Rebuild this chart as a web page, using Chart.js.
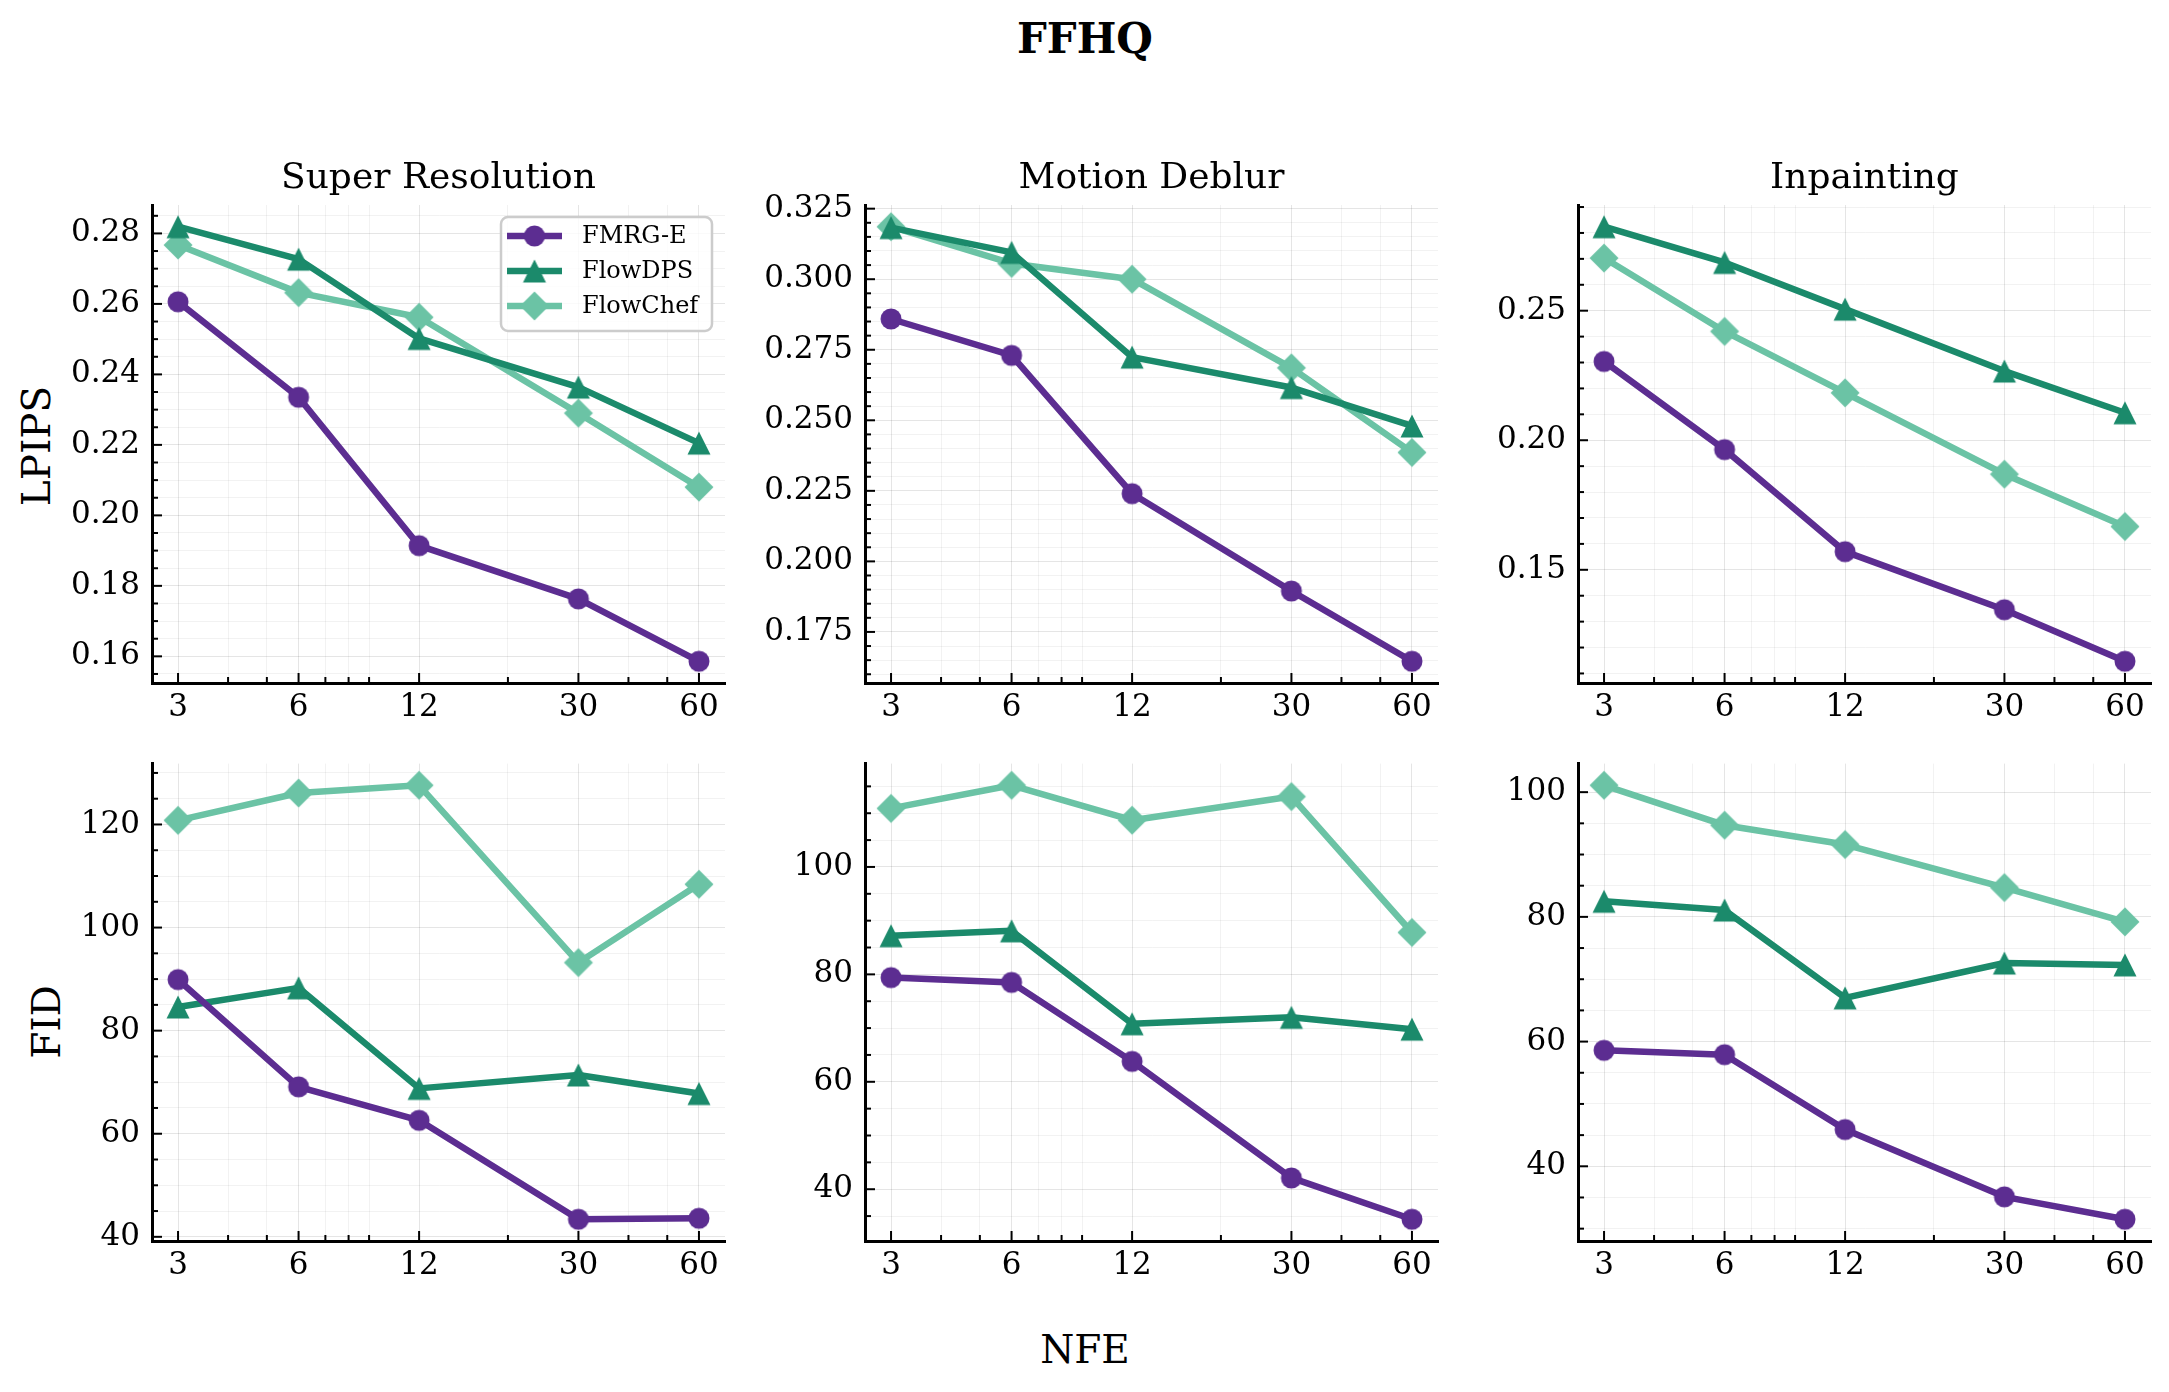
<!DOCTYPE html>
<html>
<head>
<meta charset="utf-8">
<script src="https://cdn.jsdelivr.net/npm/chart.js@4.4.1/dist/chart.umd.min.js"></script>
<style>
	body { margin: 0; background: #fff; }
	#fig { position: relative; width: 2169px; height: 1392px; background: #fff; font-family: 'DejaVu Serif', serif; color: #000; overflow: hidden; }
	#fig canvas { position: absolute; }
	.lbl { position: absolute; line-height: 1; white-space: nowrap; transform: translate(-50%, -50%); }
	.rot { transform: translate(-50%, -50%) rotate(-90deg); }
</style>
</head>
<body>
<div id="fig">
	<div class="lbl" style="left:1085px; top:39px; font-size:42px; font-weight:bold;">FFHQ</div>
	<div class="lbl" style="left:1085px; top:1349px; font-size:39px;">NFE</div>
	<div class="lbl rot" style="left:36px; top:446px; font-size:39px;">LPIPS</div>
	<div class="lbl rot" style="left:46px; top:1022px; font-size:39px;">FID</div>
</div>
<script>
// x values (log axis)
const nfe = [3, 6, 12, 30, 60];
const nfeMinor = [4, 5, 7, 8, 9, 20, 40, 50];
const tasks = ['Super Resolution', 'Motion Deblur', 'Inpainting'];
const methods = ['FMRG-E', 'FlowDPS', 'FlowChef'];

// LPIPS, one row per task (SR, deblur, inpainting)
const fmrgLpips = [
	[0.2606, 0.2335, 0.1914, 0.1763, 0.1586],
	[0.2859, 0.2730, 0.2240, 0.1895, 0.1646],
	[0.2304, 0.1964, 0.1570, 0.1346, 0.1147]
];
const flowdpsLpips = [
	[0.2819, 0.2727, 0.2502, 0.2364, 0.2205],
	[0.3183, 0.3095, 0.2724, 0.2616, 0.2480],
	[0.2824, 0.2686, 0.2506, 0.2267, 0.2106]
];
const flowchefLpips = [
	[0.2767, 0.2632, 0.2562, 0.2290, 0.2080],
	[0.3186, 0.3056, 0.3000, 0.2686, 0.2386],
	[0.2703, 0.2420, 0.2183, 0.1869, 0.1667]
];

// FID, one row per task
const fmrgFid = [
	[89.9, 69.1, 62.6, 43.4, 43.6],
	[79.4, 78.5, 63.8, 42.1, 34.4],
	[58.6, 57.9, 45.9, 35.1, 31.5]
];
const flowdpsFid = [
	[84.6, 88.3, 68.8, 71.4, 67.8],
	[87.2, 88.1, 70.8, 72.0, 69.8],
	[82.5, 81.1, 67.0, 72.6, 72.3]
];
const flowchefFid = [
	[120.8, 126.1, 127.6, 93.2, 108.4],
	[110.9, 115.2, 108.7, 113.1, 87.8],
	[101.1, 94.7, 91.6, 84.7, 79.2]
];

// y tick spacing per panel
const lpipsStep = [0.02, 0.025, 0.05];
const lpipsMinorDiv = [4, 5, 5];
const lpipsDecimals = [2, 3, 2];
const fidStep = [20, 20, 20];
const fidMinorDiv = [4, 4, 4];

const colors = ['#5c2d91', '#1b8a6b', '#6bc3a5'];
const shapes = ['circle', 'triangle', 'diamond'];
const serif = "'DejaVu Serif', serif";

// panel geometry
const colLeft = [152, 865, 1578];
const rowTop = [205, 763];
const plotW = 573, plotH = 478;
const axisW = 120, axisH = 60, padR = 24;

function markerImage(shape, color) {
	const size = shape === 'diamond' ? 32 : 26;
	const c = document.createElement('canvas');
	c.width = size;
	c.height = size;
	const g = c.getContext('2d');
	const m = size / 2;
	g.fillStyle = color;
	g.beginPath();
	if (shape === 'circle') {
		g.arc(m, m, 10.5, 0, Math.PI * 2);
	} else if (shape === 'triangle') {
		g.moveTo(m, m - 11.5);
		g.lineTo(m + 11.5, m + 11.5);
		g.lineTo(m - 11.5, m + 11.5);
		g.closePath();
	} else {
		g.moveTo(m, m - 14.5);
		g.lineTo(m + 14.5, m);
		g.lineTo(m, m + 14.5);
		g.lineTo(m - 14.5, m);
		g.closePath();
	}
	g.fill();
	return c;
}
const markers = shapes.map((s, i) => markerImage(s, colors[i]));

function paddedRange(rows) {
	const all = rows.flat();
	const lo = Math.min(...all);
	const hi = Math.max(...all);
	const m = (hi - lo) * 0.05;
	return [lo - m, hi + m];
}

function linearTicks(min, max, step, div) {
	const out = [];
	const minor = step / div;
	const start = Math.ceil(min / minor - 1e-9);
	const end = Math.floor(max / minor + 1e-9);
	for (let k = start; k <= end; k++) {
		out.push({ value: +(k * minor).toFixed(6), major: k % div === 0 });
	}
	return out;
}

function logTicks() {
	return nfe.map(v => ({ value: v, major: true }))
		.concat(nfeMinor.map(v => ({ value: v, major: false })))
		.sort((a, b) => a.value - b.value);
}

const xSpan = Math.pow(nfe[nfe.length - 1] / nfe[0], 0.05);
const xMin = nfe[0] / xSpan;
const xMax = nfe[nfe.length - 1] * xSpan;

const gridColor = (ctx) => (ctx.tick && ctx.tick.major) ? 'rgba(0,0,0,0.10)' : 'rgba(0,0,0,0.05)';

// matplotlib style ticks pointing into the axes
const innerTicks = {
	id: 'innerTicks',
	afterDraw(chart) {
		const ctx = chart.ctx;
		const a = chart.chartArea;
		ctx.save();
		ctx.strokeStyle = '#000';
		ctx.lineWidth = 2;
		chart.scales.x.ticks.forEach(t => {
			const px = chart.scales.x.getPixelForValue(t.value);
			ctx.beginPath();
			ctx.moveTo(px, a.bottom);
			ctx.lineTo(px, a.bottom - (t.major ? 10 : 6));
			ctx.stroke();
		});
		chart.scales.y.ticks.forEach(t => {
			const py = chart.scales.y.getPixelForValue(t.value);
			ctx.beginPath();
			ctx.moveTo(a.left, py);
			ctx.lineTo(a.left + (t.major ? 10 : 6), py);
			ctx.stroke();
		});
		ctx.restore();
	}
};

const cornerLegend = {
	id: 'cornerLegend',
	afterDatasetsDraw(chart, args, opts) {
		if (!opts.show) return;
		const ctx = chart.ctx;
		const a = chart.chartArea;
		const boxW = 211, boxH = 114;
		const x0 = a.right - 13 - boxW;
		const y0 = a.top + 12;
		ctx.save();
		ctx.beginPath();
		ctx.roundRect(x0, y0, boxW, boxH, 7);
		ctx.fillStyle = 'rgba(255,255,255,0.8)';
		ctx.fill();
		ctx.strokeStyle = '#cccccc';
		ctx.lineWidth = 2.5;
		ctx.stroke();
		chart.data.datasets.forEach((ds, i) => {
			const cy = y0 + 19 + i * 35;
			ctx.strokeStyle = ds.borderColor;
			ctx.lineWidth = ds.borderWidth;
			ctx.beginPath();
			ctx.moveTo(x0 + 6, cy);
			ctx.lineTo(x0 + 61, cy);
			ctx.stroke();
			const img = ds.pointStyle;
			ctx.drawImage(img, x0 + 33.5 - img.width / 2, cy - img.height / 2);
			ctx.fillStyle = '#000';
			ctx.font = '24px ' + serif;
			ctx.textBaseline = 'middle';
			ctx.textAlign = 'left';
			ctx.fillText(ds.label, x0 + 81, cy + 1);
		});
		ctx.restore();
	}
};

const fig = document.getElementById('fig');

for (let r = 0; r < 2; r++) {
	for (let c = 0; c < 3; c++) {
		const series = r === 0
			? [fmrgLpips[c], flowdpsLpips[c], flowchefLpips[c]]
			: [fmrgFid[c], flowdpsFid[c], flowchefFid[c]];
		const [yMin, yMax] = paddedRange(series);
		const step = r === 0 ? lpipsStep[c] : fidStep[c];
		const div = r === 0 ? lpipsMinorDiv[c] : fidMinorDiv[c];
		const decimals = r === 0 ? lpipsDecimals[c] : 0;

		const topPad = r === 0 ? 50 : 30;
		const canvas = document.createElement('canvas');
		canvas.width = axisW + plotW + padR;
		canvas.height = topPad + plotH + axisH;
		canvas.style.left = (colLeft[c] - axisW) + 'px';
		canvas.style.top = (rowTop[r] - topPad) + 'px';
		fig.appendChild(canvas);

		new Chart(canvas, {
			type: 'line',
			data: {
				datasets: series.map((vals, i) => ({
					label: methods[i],
					data: nfe.map((x, j) => ({ x: x, y: vals[j] })),
					borderColor: colors[i],
					backgroundColor: colors[i],
					borderWidth: 6.5,
					borderJoinStyle: 'round',
					tension: 0,
					pointStyle: markers[i],
					pointRadius: 11,
					pointHoverRadius: 11
				}))
			},
			options: {
				responsive: false,
				animation: false,
				events: [],
				layout: { padding: { top: r === 0 ? 0 : topPad, right: padR, left: 0, bottom: 0 } },
				plugins: {
					legend: { display: false },
					tooltip: { enabled: false },
					title: {
						display: r === 0,
						text: tasks[c],
						fullSize: false,
						color: '#000',
						font: { family: serif, size: 36, weight: 'normal', lineHeight: 1.2 },
						padding: { top: 2.4, bottom: 4.4 }
					},
					cornerLegend: { show: r === 0 && c === 0 }
				},
				scales: {
					x: {
						type: 'logarithmic',
						min: xMin,
						max: xMax,
						afterBuildTicks: s => { s.ticks = logTicks(); },
						afterFit: s => { s.height = axisH; },
						ticks: {
							autoSkip: false,
							maxRotation: 0,
							padding: 6,
							color: '#000',
							font: { family: serif, size: 31 },
							callback: (v, i, ticks) => ticks[i].major ? String(v) : ''
						},
						grid: { color: gridColor, lineWidth: 1, drawTicks: false },
						border: { display: true, color: '#000', width: 3 }
					},
					y: {
						type: 'linear',
						min: yMin,
						max: yMax,
						afterBuildTicks: s => { s.ticks = linearTicks(s.min, s.max, step, div); },
						afterFit: s => { s.width = axisW; },
						ticks: {
							autoSkip: false,
							padding: 12,
							color: '#000',
							font: { family: serif, size: 31 },
							callback: (v, i, ticks) => ticks[i].major ? v.toFixed(decimals) : ''
						},
						grid: { color: gridColor, lineWidth: 1, drawTicks: false },
						border: { display: true, color: '#000', width: 3 }
					}
				}
			},
			plugins: [innerTicks, cornerLegend]
		});
	}
}
</script>
</body>
</html>
